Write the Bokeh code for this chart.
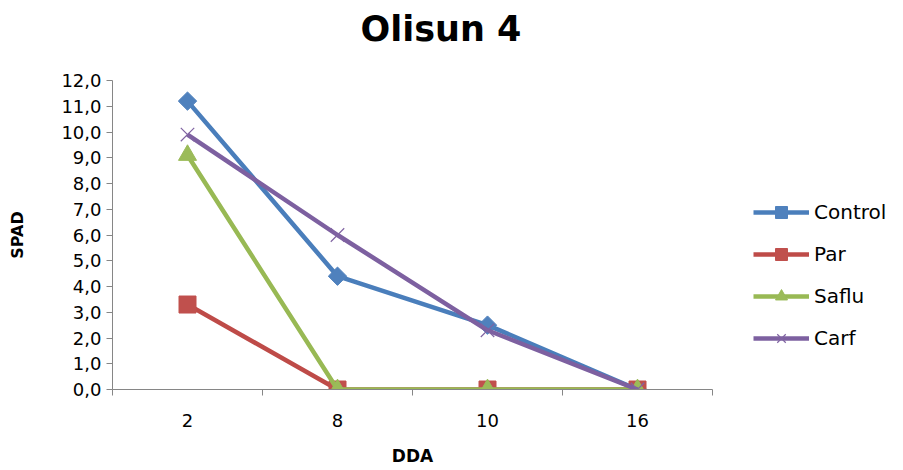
import math
from bokeh.plotting import figure
from bokeh.models import (Range1d, FixedTicker, Legend, LegendItem, ColumnDataSource, Title)
from bokeh.embed import file_html
from bokeh.resources import INLINE

# SPAD readings per sampling day (DDA)
days = ["2", "8", "10", "16"]
control = [11.2, 4.4, 2.5, 0.0]
par = [3.3, 0.0, 0.0, 0.0]
saflu = [9.1, 0.0, 0.0, 0.0]
carf = [9.9, 6.0, 2.3, 0.0]
y_ticks = list(range(0, 13))

FONT = "DejaVu Sans"
AXIS_COLOR = "#868686"

# categories sit at the centre of equal-width slots
xpos = [i + 0.5 for i in range(len(days))]

p = figure(frame_width=600, frame_height=309, output_backend="svg", toolbar_location=None,
           x_range=Range1d(0, len(days)), y_range=Range1d(0, 12),
           min_border_left=112, min_border_right=0,
           min_border_top=80, min_border_bottom=81)
p.outline_line_color = None
p.xgrid.visible = False
p.ygrid.visible = False
p.background_fill_color = "white"
p.border_fill_color = "white"

p.title.text = "Olisun 4"
p.title.text_font = FONT
p.title.text_font_size = "35px"
p.title.text_font_style = "bold"
p.title.text_color = "#000000"
p.title.align = "left"
p.title.offset = 248
p.title.standoff = 0

# blank row between the chart title and the frame
p.add_layout(Title(text=" ", text_font_size="20px", standoff=8), "above")

# x axis: labels at slot centres, tick marks on slot boundaries
xa = p.xaxis[0]
xa.ticker = FixedTicker(ticks=xpos, minor_ticks=list(range(len(days) + 1)))
xa.major_label_overrides = {x: d for x, d in zip(xpos, days)}
xa.major_tick_out = 0
xa.major_tick_in = 0
xa.minor_tick_out = 6
xa.minor_tick_in = 0
xa.minor_tick_line_color = AXIS_COLOR
xa.axis_line_color = AXIS_COLOR
xa.major_label_text_font = FONT
xa.major_label_text_font_size = "18px"
xa.major_label_text_color = "#000000"
xa.major_label_standoff = 18
xa.axis_label = "DDA"
xa.axis_label_text_font = FONT
xa.axis_label_text_font_style = "bold"
xa.axis_label_text_font_size = "17px"
xa.axis_label_text_color = "#000000"
xa.axis_label_standoff = 16

ya = p.yaxis[0]
ya.ticker = FixedTicker(ticks=y_ticks, minor_ticks=[])
ya.major_label_overrides = {t: f"{t},0" for t in y_ticks}
ya.major_tick_out = 6
ya.major_tick_in = 0
ya.major_tick_line_color = AXIS_COLOR
ya.axis_line_color = AXIS_COLOR
ya.major_label_text_font = FONT
ya.major_label_text_font_size = "18px"
ya.major_label_text_color = "#000000"
ya.major_label_standoff = 5
ya.axis_label = "SPAD"
ya.axis_label_text_font = FONT
ya.axis_label_text_font_style = "bold"
ya.axis_label_text_font_size = "16px"
ya.axis_label_text_color = "#000000"
ya.axis_label_standoff = 31

series = [
    ("Control", control, "#4A7EBB", "#4F81BD", "square", 13, math.pi / 4),
    ("Par", par, "#BE4B48", "#C0504D", "square", 17, 0.0),
    ("Saflu", saflu, "#98B954", "#9BBB59", "triangle", 18, 0.0),
    ("Carf", carf, "#7D60A0", "#8064A2", "x", 19, 0.0),
]

items = []
for name, vals, lc, fc, marker, size, angle in series:
    src = ColumnDataSource(dict(x=xpos, y=vals))
    ln = p.line("x", "y", source=src, line_color=lc, line_width=4.5)
    if marker == "x":
        mk = p.scatter("x", "y", source=src, marker="x", size=size,
                       line_color=fc, line_width=1.2)
    else:
        mk = p.scatter("x", "y", source=src, marker=marker, size=size,
                       angle=angle, fill_color=fc, line_color=fc, line_width=1)
    items.append(LegendItem(label=name, renderers=[ln, mk]))

legend = Legend(items=items, location=(41, 36),
                glyph_width=56, glyph_height=30, label_height=30,
                spacing=12, padding=0, margin=0, label_standoff=5,
                label_text_font=FONT, label_text_font_size="20px",
                label_text_color="#000000",
                border_line_color=None, background_fill_alpha=0)
p.add_layout(legend, "right")

open("out.html", "w").write(file_html(p, INLINE))
